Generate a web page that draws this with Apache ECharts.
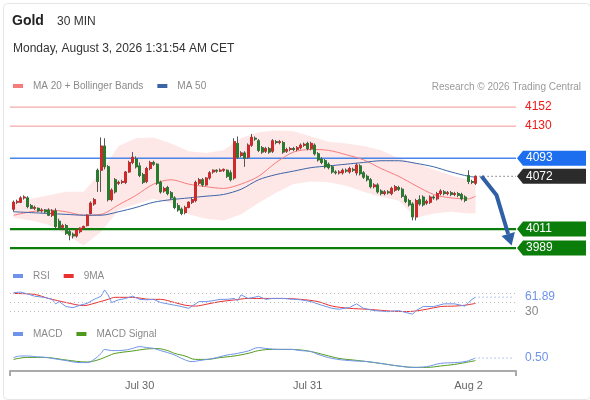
<!DOCTYPE html>
<html>
<head>
<meta charset="utf-8">
<script src="https://cdn.jsdelivr.net/npm/echarts@6/dist/echarts.min.js"></script>
<style>
  html, body { margin: 0; padding: 0; background: #fff; }
  #chart { width: 590px; height: 400px; }
</style>
</head>
<body>
<div id="chart"></div>
<script>
// ---- data ----
// 30 min candles, [open, close, low, high]
const candles = [
  [4034,4042,4031,4044],[4042,4043,4040,4045],[4042,4047,4041,4049],[4047,4048,4045,4050],[4047,4037,4035,4049],
  [4038,4035,4034,4040],[4035,4036,4033,4038],[4035,4032,4031,4036],[4032,4033,4030,4035],[4033,4031,4029,4034],
  [4033,4027,4026,4035],[4027,4032,4025,4034],[4032,4014,4012,4035],[4020,4012,4010,4023],[4013,4015,4011,4017],
  [4015,4006,4004,4017],[4008,4004,3998,4010],[4005,4003,4000,4007],[4003,4010,4001,4011],[4008,4012,4006,4013],
  [4012,4014,4011,4015],[4015,4027,4014,4028],[4029,4041,4028,4043],[4040,4045,4038,4047],[4079,4066,4054,4081],
  [4079,4107,4054,4117],[4107,4083,4080,4116],[4083,4045,4043,4085],[4045,4056,4043,4058],[4068,4054,4052,4070],
  [4064,4065,4062,4067],[4065,4066,4063,4068],[4065,4077,4063,4078],[4077,4088,4076,4090],[4088,4094,4086,4100],
  [4092,4083,4081,4095],[4084,4073,4071,4088],[4074,4065,4063,4076],[4066,4081,4064,4083],[4081,4088,4079,4090],
  [4088,4086,4084,4090],[4086,4064,4062,4087],[4065,4054,4052,4067],[4055,4058,4053,4060],[4059,4052,4050,4061],
  [4053,4047,4045,4055],[4047,4036,4034,4049],[4038,4033,4031,4041],[4034,4029,4027,4036],[4030,4036,4028,4038],
  [4036,4042,4035,4043],[4042,4045,4040,4047],[4044,4065,4042,4067],[4064,4068,4062,4070],[4068,4062,4060,4070],
  [4062,4070,4061,4071],[4070,4076,4068,4078],[4077,4079,4075,4080],[4079,4078,4076,4080],[4078,4079,4077,4081],
  [4079,4080,4077,4081],[4079,4072,4070,4080],[4076,4068,4066,4079],[4070,4112,4068,4116],[4110,4094,4092,4118],
  [4096,4099,4094,4101],[4099,4093,4083,4101],[4094,4108,4092,4110],[4108,4117,4106,4121],[4116,4115,4113,4118],
  [4113,4102,4100,4115],[4105,4100,4098,4107],[4101,4104,4099,4106],[4104,4100,4098,4106],[4101,4113,4099,4115],
  [4112,4111,4109,4114],[4111,4112,4109,4114],[4111,4100,4098,4113],[4101,4103,4099,4105],[4103,4104,4101,4106],
  [4104,4103,4101,4106],[4103,4105,4101,4107],[4105,4108,4103,4110],[4108,4109,4106,4111],[4110,4104,4102,4112],
  [4104,4110,4102,4112],[4108,4098,4096,4110],[4098,4091,4089,4100],[4092,4088,4086,4094],[4090,4083,4081,4092],
  [4086,4082,4080,4088],[4083,4077,4075,4085],[4077,4076,4074,4079],[4076,4077,4074,4079],[4076,4079,4074,4081],
  [4079,4078,4076,4081],[4077,4081,4075,4083],[4080,4079,4077,4082],[4076,4085,4073,4087],[4084,4075,4073,4086],
  [4076,4071,4069,4078],[4072,4068,4066,4074],[4068,4060,4058,4070],[4060,4062,4058,4064],[4062,4054,4052,4064],
  [4055,4052,4050,4057],[4052,4054,4050,4056],[4054,4053,4051,4056],[4052,4058,4050,4060],[4056,4060,4054,4062],
  [4059,4057,4055,4061],[4057,4049,4047,4059],[4049,4043,4041,4051],[4044,4039,4037,4046],[4040,4025,4021,4042],
  [4025,4044,4021,4046],[4045,4040,4038,4050],[4048,4039,4037,4050],[4041,4043,4039,4045],[4042,4048,4040,4050],
  [4048,4047,4045,4050],[4046,4052,4044,4054],[4052,4055,4050,4057],[4054,4052,4050,4056],[4052,4053,4050,4055],
  [4053,4051,4049,4055],[4051,4052,4049,4054],[4052,4050,4048,4054],[4051,4046,4044,4053],[4048,4044,4042,4050],
  [4073,4066,4063,4079],[4066,4065,4063,4068],[4064,4072,4062,4073]
];

// moving averages and bands, sampled at candle indices
const bandIdx = [0,5,10,15,20,25,30,35,40,45,50,55,60,65,70,75,80,85,90,95,100,105,110,115,120,125,130,132];
const bbUpper = [4042,4046,4050,4054,4054,4077,4107,4116,4117,4110,4101,4099,4102,4116,4123,4125,4124,4118,4112,4110,4107,4102,4093,4087,4080,4073,4068,4064];
const bbLower = [4024,4021,4016,4005,3992,4008,4033,4040,4046,4041,4028,4023,4021,4028,4041,4053,4063,4066,4065,4061,4054,4048,4044,4024,4029,4031,4029,4029];
const ma20 = [4027,4031,4033,4031,4027,4028,4039,4050,4063,4068,4063,4060,4058,4063,4072,4088,4100,4103,4102,4097,4091,4081,4072,4061,4051,4047,4046,4049];
const ma50 = [4031,4030,4029,4028,4027,4027,4031,4036,4042,4045,4047,4049,4051,4057,4068,4074,4078,4082,4084,4086,4088,4090,4090,4087,4083,4077,4072,4071];

// RSI panel
const rsiIdx = [0,2,4,6,9,11,12,13,15,17,19,21,23,25,26,27,28,30,32,34,36,38,40,42,44,46,48,50,51,53,55,57,59,61,63,64,65,67,69,70,72,74,77,80,82,85,88,91,93,96,98,100,103,107,110,113,114,115,117,120,123,126,129,130,131,132];
const rsiVal = [72,73,69,64,61,57,47,52,41,38.5,44,48,57,64,78,67,50,56,59,64,57,56,57,50,47,44,41,37,42,52,52,54,57,57,59,54,67,59,62,64,57,59,59,57,56,52,44,37,35,39,47,37,32,29.6,32,26,24,32,41,41,47,47,42,50,57,61.89];
const rsiMaIdx = [0,6,10,15,20,23,27,29,34,39,42,46,49,52,55,59,63,67,72,77,82,87,91,96,101,106,110,113,118,122,126,129,132];
const rsiMaVal = [70,68,59,50,43,48,57,61.5,61.5,57,57,50,44,42,46,52,55.6,59,59,59,57,52,42,37,35,32,30,30,35,41,42,44,48];
const rsiLevels = [70, 50, 30];

// MACD panel
const macdIdx = [0,2,4,6,9,11,15,19,21,23,25,26,28,32,34,36,38,40,42,44,46,48,51,53,57,61,63,65,67,70,72,76,79,82,85,87,91,96,101,106,110,114,118,122,126,129,131,132];
const macdVal = [0.7,1.5,1.5,1.2,0.8,0.3,-0.8,-1.8,-1.8,-0.2,2.8,4.8,4.2,4.5,5.3,6.2,5.7,5.3,4.2,3.2,2,0.3,-1.3,-0.8,0.3,2,2.5,3.2,4,5.7,5.3,4.8,4.8,4.2,3.7,2.3,0.3,-0.8,-1.3,-2.5,-3.5,-4.2,-3.8,-2.2,-1.8,-1.3,-0.2,0.5];
const signalIdx = [0,4,9,11,15,21,24,27,29,34,38,41,44,46,49,52,55,59,63,67,70,74,79,82,85,89,93,97,101,106,110,115,118,122,126,129,132];
const signalVal = [-0.2,0.8,0.8,0.5,-0.5,-1.5,-0.5,1.5,2.8,4,5,5.2,4.2,2.8,1.5,-0.2,-0.2,0.7,1.5,2.8,4.2,4.8,4.8,4.5,3.7,2,0.3,-0.5,-1.3,-2.5,-3.5,-4.2,-4.2,-3.5,-2.7,-1.8,-0.8];

// key levels and projection
const levelValues = [4152, 4130, 4093, 4072, 4011, 3989];
const levelKinds = ['res', 'res', 'pivot', 'last', 'sup', 'sup'];
const projIdx = [133.7, 138, 142.3];
const projVal = [4072, 4050, 3992];

// x axis ticks (candle index of day start)
const xTickIdx = [36, 84, 130];
const xTickText = ['Jul 30', 'Jul 31', 'Aug 2'];

// ---- chart ----
const FONT = '"Liberation Sans", Arial, sans-serif';
const xMin = -1.03, xMax = 143.55;
const lastIdx = candles.length - 1;

const UP = '#df2424', DOWN = '#23802a', WICK = '#555';
const levelStyle = {
  res:   { line: '#f49494', width: 1, text: '#f01818' },
  pivot: { line: '#4a86ea', width: 1.5, box: '#1d6ff0' },
  last:  { line: '#333', width: 1, dash: [1, 3], box: '#2b2b2b', fromLast: true },
  sup:   { line: '#0b7d0b', width: 2.2, box: '#0b7d0b' }
};

const pairs = (xs, ys) => xs.map((x, k) => [x, ys[k]]);

function tag(right, y, text, bg) {
  return [
    { type: 'polygon', shape: { points: [[right + 1, y], [right + 7, y - 7.5], [right + 70, y - 7.5], [right + 70, y + 7.5], [right + 7, y + 7.5]] },
      style: { fill: bg } },
    { type: 'text', style: { text: text, x: right + 10, y: y, fill: '#fff', font: '12px ' + FONT, verticalAlign: 'middle', align: 'left' } }
  ];
}

function renderLevels(params, api) {
  const cs = params.coordSys;
  const v = api.value(1);
  const st = levelStyle[levelKinds[params.dataIndex]];
  const y = api.coord([0, v])[1];
  const right = cs.x + cs.width;
  const left = st.fromLast ? api.coord([lastIdx, v])[0] + 4 : cs.x;
  let children = [{ type: 'line', shape: { x1: left, y1: y, x2: right, y2: y },
    style: { stroke: st.line, lineWidth: st.width, lineDash: st.dash || null } }];
  if (st.box) children = children.concat(tag(right, y, String(v), st.box));
  else children.push({ type: 'text', style: { text: String(v), x: right + 9, y: y, fill: st.text, font: '12px ' + FONT, verticalAlign: 'middle' } });
  return { type: 'group', children: children };
}

function renderBand(params, api) {
  if (params.dataIndex !== 0) return null;
  const pts = [];
  bandIdx.forEach((x, k) => pts.push(api.coord([x, bbUpper[k]])));
  for (let k = bandIdx.length - 1; k >= 0; k--) pts.push(api.coord([bandIdx[k], bbLower[k]]));
  return { type: 'polygon', shape: { points: pts }, style: { fill: 'rgba(248,110,110,0.17)' } };
}

function renderArrow(params, api) {
  if (params.dataIndex !== 0) return null;
  const pts = projIdx.map((x, k) => api.coord([x, projVal[k]]));
  const p1 = pts[pts.length - 2], p2 = pts[pts.length - 1];
  const dx = p2[0] - p1[0], dy = p2[1] - p1[1], len = Math.hypot(dx, dy);
  const ux = dx / len, uy = dy / len;
  const bx = p2[0] - ux * 12, by = p2[1] - uy * 12;
  const line = pts.slice(0, -1).concat([[bx, by]]);
  return { type: 'group', children: [
    { type: 'polyline', shape: { points: line }, style: { stroke: '#2f60a6', lineWidth: 4, fill: null, lineJoin: 'round' } },
    { type: 'polygon', shape: { points: [p2, [bx - uy * 7, by + ux * 7], [bx + uy * 7, by - ux * 7]] }, style: { fill: '#2f60a6' } }
  ] };
}

// end-of-line value tag for the lower panels
function valueTag(color, decimals) {
  return function (params, api) {
    const cs = params.coordSys;
    const v = api.value(1);
    const right = cs.x + cs.width;
    const p = api.coord([api.value(0), v]);
    return { type: 'group', children: [
      { type: 'line', shape: { x1: p[0] + 3, y1: p[1], x2: right - 2, y2: p[1] }, style: { stroke: color, lineWidth: 1, lineDash: [1, 3] } },
      { type: 'text', style: { text: v.toFixed(decimals), x: right + 9, y: p[1], fill: color, font: '12px ' + FONT, verticalAlign: 'middle' } }
    ] };
  };
}

const chart = echarts.init(document.getElementById('chart'));

const legendBase = {
  left: 8, icon: 'rect', itemWidth: 10, itemHeight: 4, itemGap: 14,
  textStyle: { color: '#8a8a8a', fontSize: 10, fontFamily: FONT, padding: [0, 0, 0, 5] },
  selectedMode: false
};

const hiddenX = (g) => ({ type: 'value', gridIndex: g, min: xMin, max: xMax, show: false });

chart.setOption({
  animation: false,
  textStyle: { fontFamily: FONT },
  graphic: [{ type: 'rect', left: 1, top: 1, shape: { width: 587, height: 396, r: 4 },
    style: { fill: 'none', stroke: '#e3e7ea', lineWidth: 1 }, z: -1 }],
  title: [
    { text: 'Gold', left: 7, top: 9, textStyle: { fontSize: 14, fontWeight: 'bold', color: '#222', fontFamily: FONT } },
    { text: '30 MIN', left: 52, top: 11, textStyle: { fontSize: 12, fontWeight: 'normal', color: '#333', fontFamily: FONT } },
    { text: 'Monday, August 3, 2026 1:31:54 AM CET', left: 8, top: 38, textStyle: { fontSize: 12, fontWeight: 'normal', color: '#333', fontFamily: FONT } },
    { text: 'Research © 2026 Trading Central', right: 4, top: 77, textStyle: { fontSize: 10, fontWeight: 'normal', color: '#9a9a9a', fontFamily: FONT } }
  ],
  legend: [
    Object.assign({ top: 76, data: ['MA 20 + Bollinger Bands', 'MA 50'] }, legendBase),
    Object.assign({ top: 266, data: ['RSI', '9MA'] }, legendBase),
    Object.assign({ top: 324, data: ['MACD', 'MACD Signal'] }, legendBase)
  ],
  grid: [
    { left: 10, right: 74, top: 95, height: 160, outerBoundsMode: 'none' },
    { left: 10, right: 74, top: 280, height: 45, outerBoundsMode: 'none' },
    { left: 10, right: 74, top: 340, height: 31, outerBoundsMode: 'none' }
  ],
  xAxis: [
    hiddenX(0), hiddenX(1),
    { type: 'value', gridIndex: 2, min: xMin, max: xMax,
      splitLine: { show: false },
      axisLine: { show: true, onZero: false, lineStyle: { color: '#aaa', width: 2 } },
      axisTick: { show: true, customValues: [xMin, xMax], length: 5, lineStyle: { color: '#aaa', width: 2 } },
      axisLabel: { customValues: xTickIdx, color: '#666', fontSize: 11, margin: 9,
        formatter: (v) => xTickText[xTickIdx.indexOf(v)] } }
  ],
  yAxis: [
    { type: 'value', gridIndex: 0, min: 3981, max: 4166, show: false },
    { type: 'value', gridIndex: 1, min: 0, max: 100, show: false },
    { type: 'value', gridIndex: 2, min: -6, max: 9.5, show: false }
  ],
  series: [
    { type: 'custom', name: 'band', xAxisIndex: 0, yAxisIndex: 0, z: 1, silent: true, clip: false,
      renderItem: renderBand, data: [[bandIdx[0], bbUpper[0]]], encode: { x: 0, y: 1 } },
    { type: 'custom', name: 'levels', xAxisIndex: 0, yAxisIndex: 0, z: 2, silent: true, clip: false,
      renderItem: renderLevels, data: levelValues.map((v, i) => [i, v]), encode: { x: 0, y: 1 } },
    { type: 'line', name: 'MA 20 + Bollinger Bands', xAxisIndex: 0, yAxisIndex: 0, z: 3,
      data: pairs(bandIdx, ma20), smooth: 0.3, symbol: 'none', color: '#f47c7c',
      lineStyle: { color: '#f47c7c', width: 1 } },
    { type: 'line', name: 'MA 50', xAxisIndex: 0, yAxisIndex: 0, z: 3,
      data: pairs(bandIdx, ma50), smooth: 0.3, symbol: 'none', color: '#3b63a6',
      lineStyle: { color: '#3b63a6', width: 1 } },
    { type: 'candlestick', name: 'wicks', xAxisIndex: 0, yAxisIndex: 0, z: 4, barWidth: 2.6,
      data: candles.map((c, i) => [i].concat(c)), encode: { x: 0, y: [1, 2, 3, 4] },
      itemStyle: { color: WICK, color0: WICK, borderColor: WICK, borderColor0: WICK, borderColorDoji: WICK, borderWidth: 1 } },
    { type: 'candlestick', name: 'bodies', xAxisIndex: 0, yAxisIndex: 0, z: 5, barWidth: 2.6,
      data: candles.map((c, i) => [i, c[0], c[1], Math.min(c[0], c[1]), Math.max(c[0], c[1])]),
      encode: { x: 0, y: [1, 2, 3, 4] },
      itemStyle: { color: UP, color0: DOWN, borderColor: UP, borderColor0: DOWN, borderWidth: 0.6 } },
    { type: 'custom', name: 'projection', xAxisIndex: 0, yAxisIndex: 0, z: 6, silent: true, clip: false,
      renderItem: renderArrow, data: [[projIdx[0], projVal[0]]], encode: { x: 0, y: 1 } },

    { type: 'line', name: 'RSI', xAxisIndex: 1, yAxisIndex: 1, data: pairs(rsiIdx, rsiVal), symbol: 'none',
      color: '#6f93ea', lineStyle: { color: '#6f93ea', width: 1 }, z: 3,
      markLine: { silent: true, symbol: 'none', label: { show: false },
        lineStyle: { color: '#bbb', type: [1, 3], width: 1 }, data: rsiLevels.map((v) => ({ yAxis: v })) } },
    { type: 'line', name: '9MA', xAxisIndex: 1, yAxisIndex: 1, data: pairs(rsiMaIdx, rsiMaVal), symbol: 'none',
      smooth: 0.3, color: '#e83030', lineStyle: { color: '#e83030', width: 1 }, z: 2 },
    { type: 'custom', name: 'rsiTag', xAxisIndex: 1, yAxisIndex: 1, z: 4, silent: true, clip: false,
      renderItem: valueTag('#6f93ea', 2), data: [[lastIdx, rsiVal[rsiVal.length - 1]]], encode: { x: 0, y: 1 } },
    { type: 'custom', name: 'rsiFloor', xAxisIndex: 1, yAxisIndex: 1, z: 3, silent: true, clip: false,
      renderItem: (params, api) => {
        const cs = params.coordSys;
        const y = api.coord([0, api.value(1)])[1];
        return { type: 'text', style: { text: String(api.value(1)), x: cs.x + cs.width + 9, y: y, fill: '#888', font: '12px ' + FONT, verticalAlign: 'middle' } };
      }, data: [[0, rsiLevels[2]]], encode: { x: 0, y: 1 } },

    { type: 'line', name: 'MACD', xAxisIndex: 2, yAxisIndex: 2, data: pairs(macdIdx, macdVal), symbol: 'none',
      smooth: 0.4, color: '#6f93ea', lineStyle: { color: '#6f93ea', width: 1 }, z: 3 },
    { type: 'line', name: 'MACD Signal', xAxisIndex: 2, yAxisIndex: 2, data: pairs(signalIdx, signalVal), symbol: 'none',
      smooth: 0.4, color: '#4f9a1c', lineStyle: { color: '#4f9a1c', width: 1 }, z: 2 },
    { type: 'custom', name: 'macdTag', xAxisIndex: 2, yAxisIndex: 2, z: 4, silent: true, clip: false,
      renderItem: valueTag('#6f93ea', 2), data: [[lastIdx, macdVal[macdVal.length - 1]]], encode: { x: 0, y: 1 } }
  ]
});
</script>
</body>
</html>
